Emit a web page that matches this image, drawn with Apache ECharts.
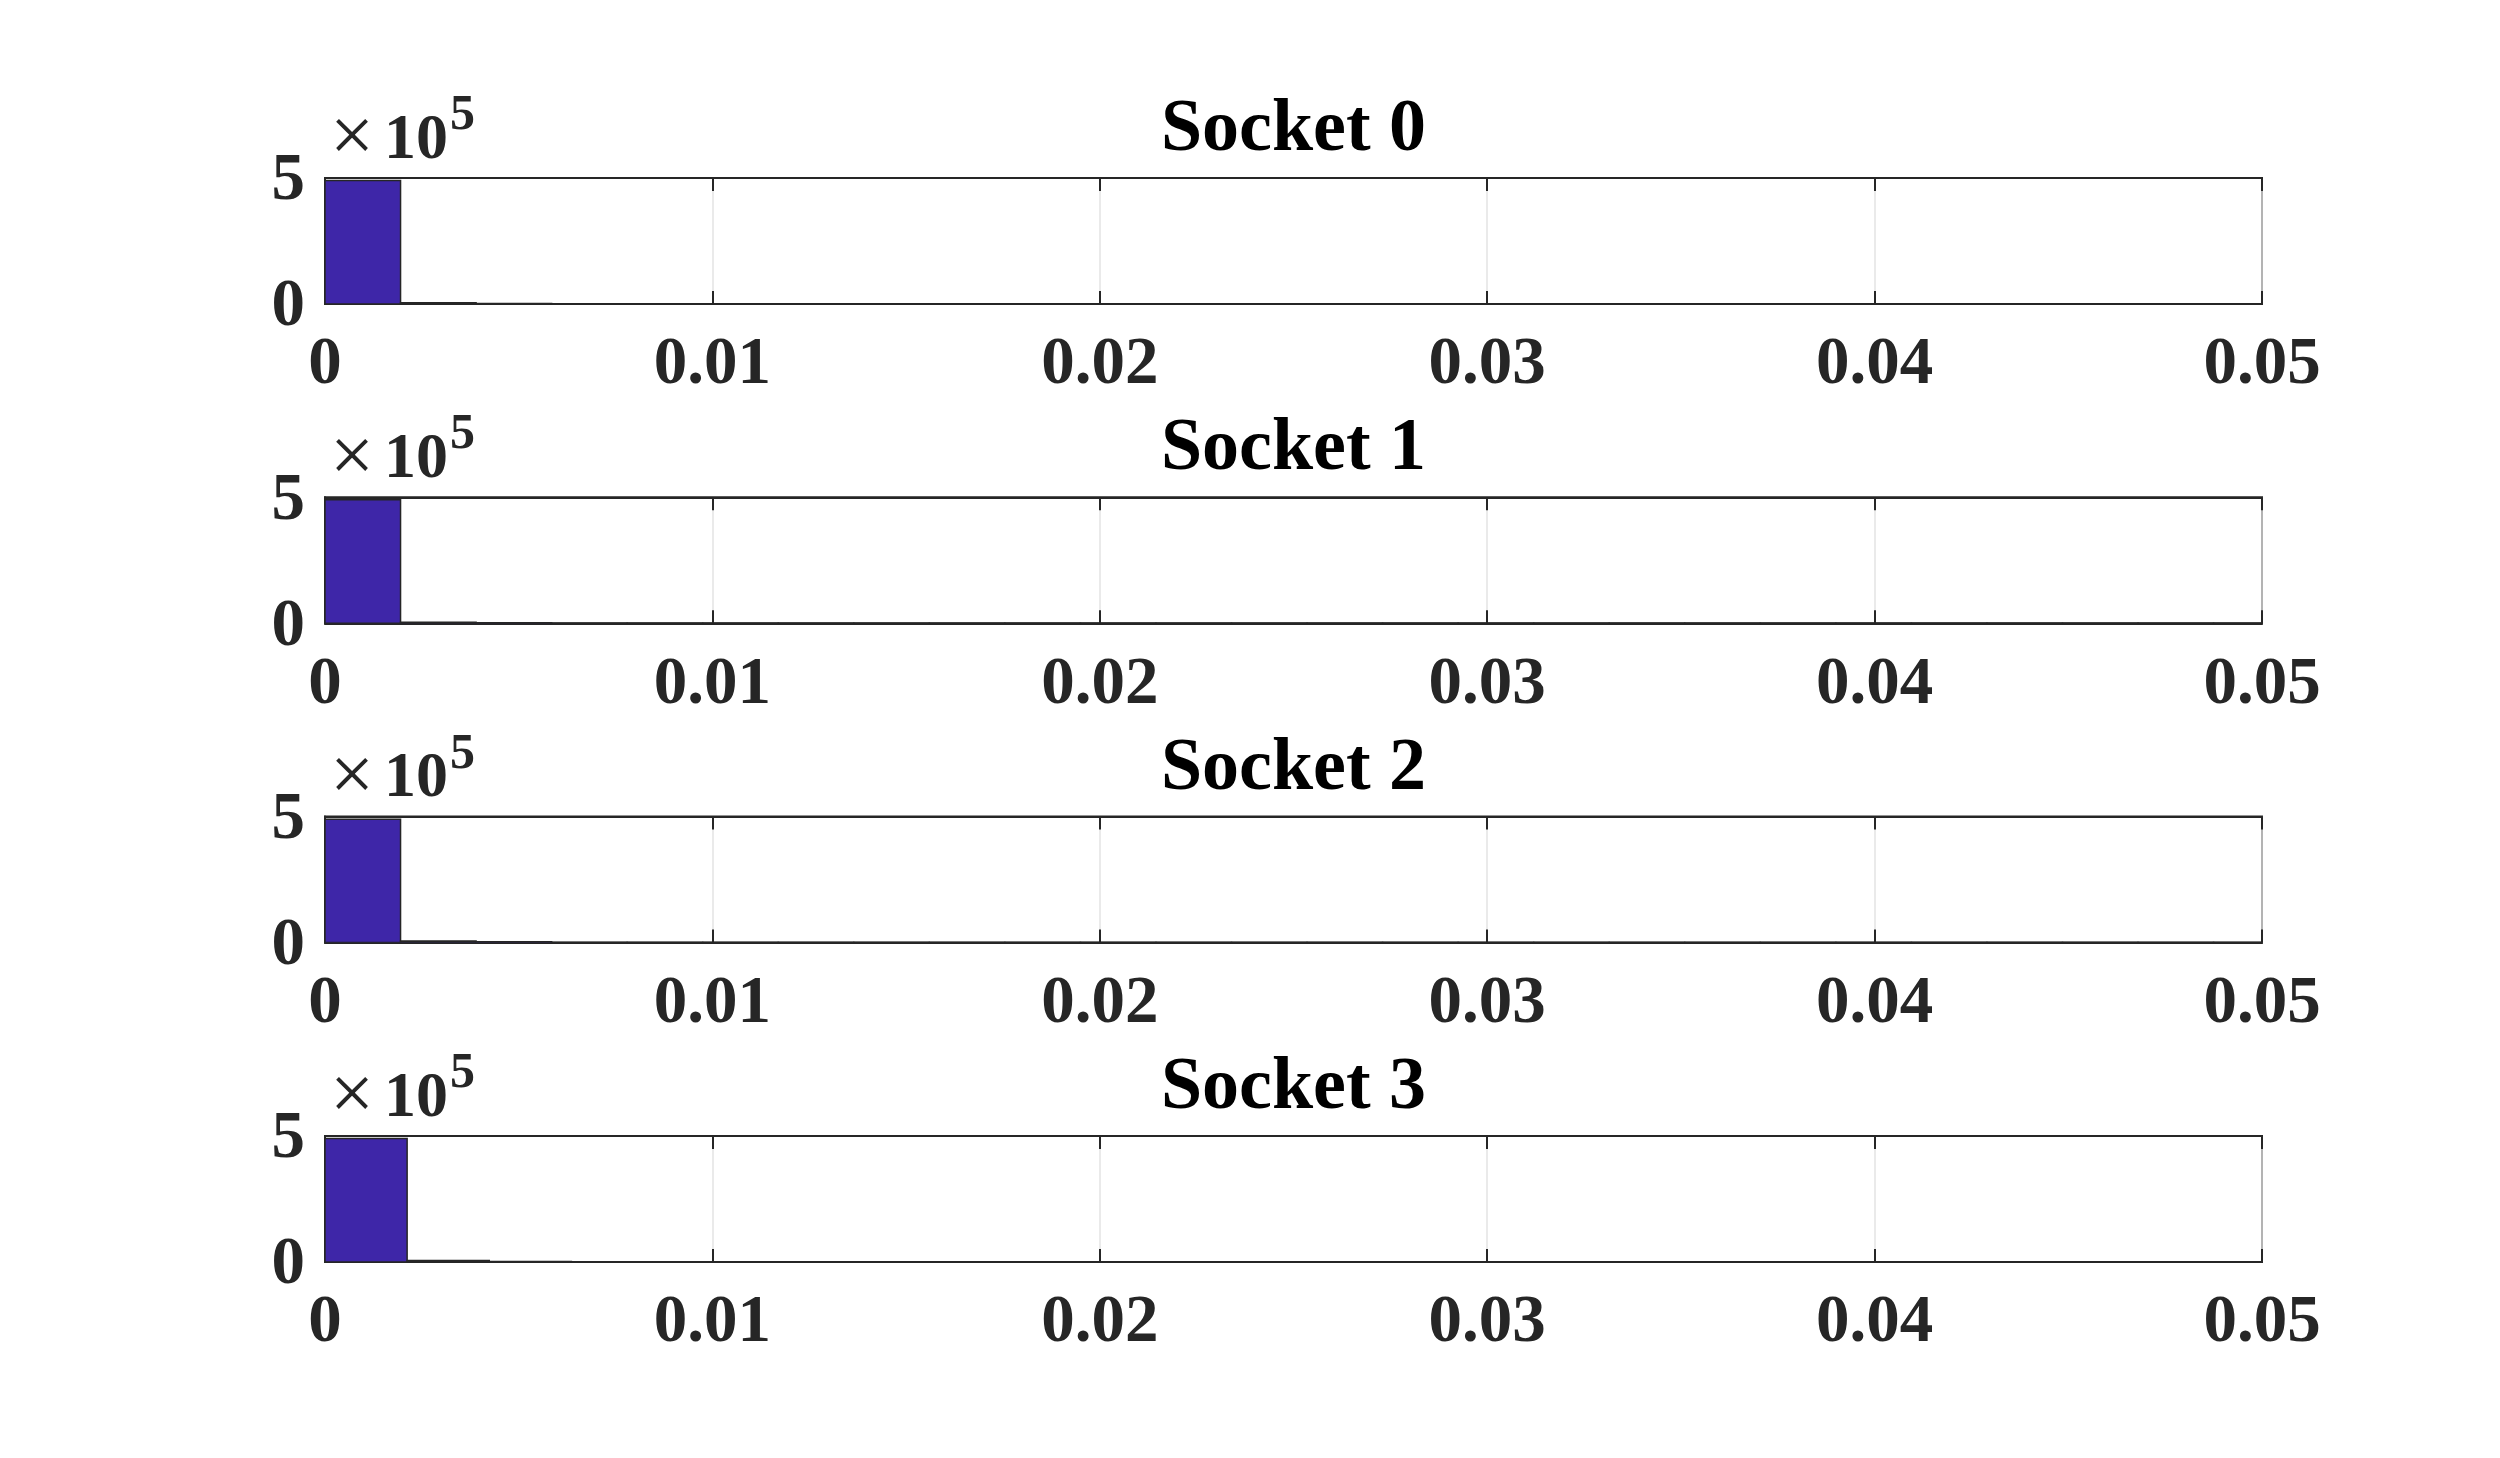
<!DOCTYPE html>
<html>
<head>
<meta charset="utf-8">
<title>Socket histograms</title>
<script src="https://cdn.jsdelivr.net/npm/echarts@6/dist/echarts.min.js"></script>
<style>
  html, body { margin: 0; padding: 0; background: #ffffff; }
  #chart { width: 2500px; height: 1458px; }
</style>
</head>
<body>
<div id="chart"></div>
<script>
// ---------------- data ----------------
const socketTitles = ['Socket 0', 'Socket 1', 'Socket 2', 'Socket 3'];
const xTickValues = [0, 0.01, 0.02, 0.03, 0.04, 0.05];
const yTickValues = [0, 500000];
const yScaleExponent = 5;

// histogram bin widths (bins start at 0)
const binWidth0 = 0.00195;
const binWidth1 = 0.00195;
const binWidth2 = 0.00195;
const binWidth3 = 0.00212;

// counts per bin (tail bins are tiny)
const counts0 = [490000, 4800, 1500, 400, 300, 250, 200, 180, 160, 150, 140, 130, 120, 110, 100, 100, 90, 90, 80, 80, 70, 70, 60, 60, 50, 50];
const counts1 = [490000, 4500, 1800, 600, 500, 300, 250, 200, 180, 160, 150, 140, 130, 120, 110, 100, 100, 90, 90, 80, 80, 70, 70, 60, 60, 50];
const counts2 = [489000, 6500, 3000, 800, 400, 300, 250, 200, 180, 160, 150, 140, 130, 120, 110, 100, 100, 90, 90, 80, 80, 70, 70, 60, 60, 50];
const counts3 = [490000, 5500, 2000, 700, 500, 300, 250, 200, 180, 160, 150, 140, 130, 120, 110, 100, 100, 90, 90, 80, 80, 70, 70, 60];

const binWidths = [binWidth0, binWidth1, binWidth2, binWidth3];
const allCounts = [counts0, counts1, counts2, counts3];

// ---------------- layout / style ----------------
const GRID_LEFT = 325;
const GRID_W = 1937;
const GRID_H = 126;
const GRID_TOPS = [178, 497.3, 816.6, 1136];
const FONT = '"Liberation Serif", "Times New Roman", serif';
const TEXT_COLOR = '#262626';
const BAR_COLOR = '#3E26A8';

const chart = echarts.init(document.getElementById('chart'), null, { renderer: 'canvas' });

const grids = [], xAxes = [], yAxes = [], series = [], graphics = [];

GRID_TOPS.forEach((top, i) => {
  grids.push({
    left: GRID_LEFT, top: top, width: GRID_W, height: GRID_H,
    show: true, borderColor: TEXT_COLOR, borderWidth: 2, backgroundColor: '#ffffff'
  });
  // bottom x axis with labels
  xAxes.push({
    type: 'value', gridIndex: i, position: 'bottom',
    min: xTickValues[0], max: xTickValues[xTickValues.length - 1], interval: 0.01,
    axisLine: { show: true, onZero: false, lineStyle: { color: TEXT_COLOR, width: 2 } },
    axisTick: { show: true, inside: true, length: 13, lineStyle: { color: TEXT_COLOR, width: 2 } },
    splitLine: { show: true, lineStyle: { color: '#e3e3e3', width: 1.5 } },
    axisLabel: {
      show: true, margin: 62, verticalAlign: 'middle',
      fontFamily: FONT, fontWeight: 'bold', fontSize: 67, color: TEXT_COLOR,
      formatter: v => (v === 0 ? '0' : String(+v.toFixed(2)))
    }
  });
  // top x axis: ticks only (box)
  xAxes.push({
    type: 'value', gridIndex: i, position: 'top',
    min: xTickValues[0], max: xTickValues[xTickValues.length - 1], interval: 0.01,
    axisLine: { show: true, onZero: false, lineStyle: { color: TEXT_COLOR, width: 2 } },
    axisTick: { show: true, inside: true, length: 13, lineStyle: { color: TEXT_COLOR, width: 2 } },
    splitLine: { show: false },
    axisLabel: { show: false }
  });
  yAxes.push({
    type: 'value', gridIndex: i, position: 'left',
    min: yTickValues[0], max: yTickValues[1], interval: yTickValues[1],
    axisLine: { show: true, onZero: false, lineStyle: { color: TEXT_COLOR, width: 2 } },
    axisTick: { show: true, inside: true, length: 13, lineStyle: { color: TEXT_COLOR, width: 2 } },
    splitLine: { show: false },
    axisLabel: {
      show: true, margin: 20, verticalAlign: 'top', lineHeight: 8,
      fontFamily: FONT, fontWeight: 'bold', fontSize: 67, color: TEXT_COLOR,
      formatter: v => String(Math.round(v / Math.pow(10, yScaleExponent)))
    }
  });

  const bw = binWidths[i];
  const data = allCounts[i].map((c, k) => [k * bw, (k + 1) * bw, c]);
  series.push({
    type: 'custom',
    name: socketTitles[i],
    xAxisIndex: i * 2, yAxisIndex: i,
    clip: true,
    encode: { x: [0, 1], y: 2 },
    data: data,
    renderItem: function (params, api) {
      const p0 = api.coord([api.value(0), api.value(2)]);
      const p1 = api.coord([api.value(1), 0]);
      const cs = params.coordSys;
      const x0 = Math.max(p0[0], cs.x);
      const x1 = Math.min(p1[0], cs.x + cs.width);
      if (x1 <= x0) return null;
      return {
        type: 'rect',
        shape: { x: x0, y: p0[1], width: x1 - x0, height: p1[1] - p0[1] },
        style: { fill: BAR_COLOR, stroke: TEXT_COLOR, lineWidth: 1.5 }
      };
    },
    z: 2
  });

  // subplot title
  graphics.push({
    type: 'text', x: GRID_LEFT + GRID_W / 2, y: top - 47,
    style: {
      text: socketTitles[i], fill: '#000000',
      font: 'bold 74px ' + FONT, textAlign: 'center', textVerticalAlign: 'middle'
    }
  });
  // exponent label  x10^5
  graphics.push({
    type: 'text', x: GRID_LEFT + 5, y: top - 37,
    style: { text: '\u00d7', fill: TEXT_COLOR, font: 'normal 78px ' + FONT, textAlign: 'left', textVerticalAlign: 'middle' }
  });
  graphics.push({
    type: 'text', x: GRID_LEFT + 59, y: top - 37,
    style: { text: '10', fill: TEXT_COLOR, font: 'bold 64px ' + FONT, textAlign: 'left', textVerticalAlign: 'middle' }
  });
  graphics.push({
    type: 'text', x: GRID_LEFT + 125, y: top - 62,
    style: { text: String(yScaleExponent), fill: TEXT_COLOR, font: 'bold 50px ' + FONT, textAlign: 'left', textVerticalAlign: 'middle' }
  });
});

chart.setOption({
  backgroundColor: '#ffffff',
  animation: false,
  grid: grids,
  xAxis: xAxes,
  yAxis: yAxes,
  series: series,
  graphic: graphics
});
</script>
</body>
</html>
